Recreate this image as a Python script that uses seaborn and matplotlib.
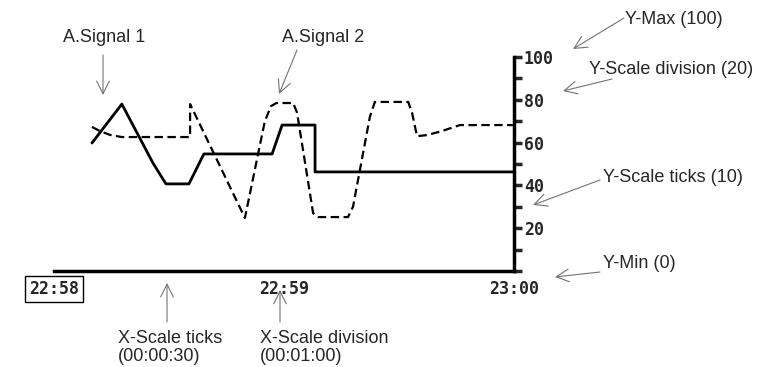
import pandas as pd
import seaborn as sns
import matplotlib.pyplot as plt
from matplotlib.ticker import MultipleLocator

# seconds after 22:58:00
sig1_t = [9.9, 17.7, 25.8, 29.2, 35.2, 39.1, 56.9, 59.5, 68.1, 68.1, 119.7]
sig1_v = [59.8, 78, 50.5, 40.7, 40.7, 54.7, 54.7, 68.2, 68.2, 46.3, 46.3]

sig2_t = [9.9, 12.0, 14.6, 17.7, 35.5, 35.5, 49.8, 55.0, 56.6, 58.0, 62.4, 63.4,
          67.6, 68.9, 76.7, 78.0, 82.4, 83.7, 92.4, 93.4, 94.7, 97.3, 101.2, 105.9, 119.7]
sig2_v = [67.3, 65.4, 63.6, 62.6, 62.6, 78, 24.8, 70, 77, 78.5, 78.5, 74,
          27, 25.2, 25.2, 30, 72, 79, 79, 74, 63, 63.5, 65.4, 68.2, 68.2]

x_ticks = [0, 60, 120]
x_labels = ["22:58", "22:59", "23:00"]
y_ticks = [20, 40, 60, 80, 100]
y_labels = ["20", "40", "60", "80", "100"]

notes = ["A.Signal 1", "A.Signal 2", "Y-Max (100)", "Y-Scale division (20)",
         "Y-Scale ticks (10)", "Y-Min (0)", "X-Scale ticks\n(00:00:30)",
         "X-Scale division\n(00:01:00)"]

sns.set_style("white")
plt.rcParams['font.family'] = ['Liberation Sans', 'DejaVu Sans']

W, H = 764, 367
fig = plt.figure(figsize=(W / 100, H / 100), dpi=100)
ax = fig.add_axes([54 / W, (H - 271) / H, 460 / W, 214 / H])

df1 = pd.DataFrame({"t": sig1_t, "v": sig1_v})
df2 = pd.DataFrame({"t": sig2_t, "v": sig2_v})
sns.lineplot(data=df1, x="t", y="v", ax=ax, color="black", lw=2,
             estimator=None, sort=False)
sns.lineplot(data=df2, x="t", y="v", ax=ax, color="black", lw=1.6,
             linestyle=(0, (3.8, 2)), estimator=None, sort=False)

ax.set_xlim(0, 120)
ax.set_ylim(0, 100)
ax.set_xlabel("")
ax.set_ylabel("")
for s in ["top", "left"]:
    ax.spines[s].set_visible(False)
for s in ["right", "bottom"]:
    ax.spines[s].set_linewidth(2.5)
    ax.spines[s].set_color("black")

ax.yaxis.tick_right()
ax.set_yticks(y_ticks)
ax.set_yticklabels(y_labels)
ax.yaxis.set_minor_locator(MultipleLocator(10))
ax.tick_params(axis="y", which="both", direction="out", length=6, width=2.5,
               right=True, left=False, labelsize=12, pad=1)

ax.set_xticks(x_ticks)
ax.set_xticklabels(x_labels)
ax.xaxis.set_minor_locator(MultipleLocator(30))
ax.tick_params(axis="x", which="major", direction="out", length=5, width=2, labelsize=12, pad=1.5)
ax.tick_params(axis="x", which="minor", direction="out", length=3, width=2)

for lbl in ax.get_xticklabels() + ax.get_yticklabels():
    lbl.set_fontfamily("DejaVu Sans Mono")
    lbl.set_fontweight("bold")
ax.get_xticklabels()[0].set_bbox(dict(boxstyle="square,pad=0.25", fc="white", ec="black", lw=1))


def arrow(tail, tip):
    ax.annotate("", xy=(tip[0], H - tip[1]), xytext=(tail[0], H - tail[1]),
                xycoords="figure pixels", textcoords="figure pixels",
                annotation_clip=False,
                arrowprops=dict(arrowstyle="->,head_length=0.7,head_width=0.35",
                                color="0.45", lw=0.8, shrinkA=0, shrinkB=0,
                                mutation_scale=13))


def note(x, y, s, va="center"):
    fig.text(x / W, 1 - y / H, s, fontsize=13, ha="left", va=va, linespacing=1.05)


note(63, 38, notes[0]); arrow((103, 55), (103, 95))
note(282, 38, notes[1]); arrow((297, 50), (279, 94))
note(625, 19, notes[2]); arrow((624, 18), (573, 49))
note(589, 69, notes[3]); arrow((612, 79), (563, 91))
note(603, 177, notes[4]); arrow((600, 180), (533, 205))
note(603, 264, notes[5]); arrow((600, 272), (555, 277))
note(118, 330, notes[6], va="top"); arrow((167, 322), (167, 283))
note(260, 330, notes[7], va="top"); arrow((280, 322), (280, 290))

fig.savefig("out.png", dpi=100)
